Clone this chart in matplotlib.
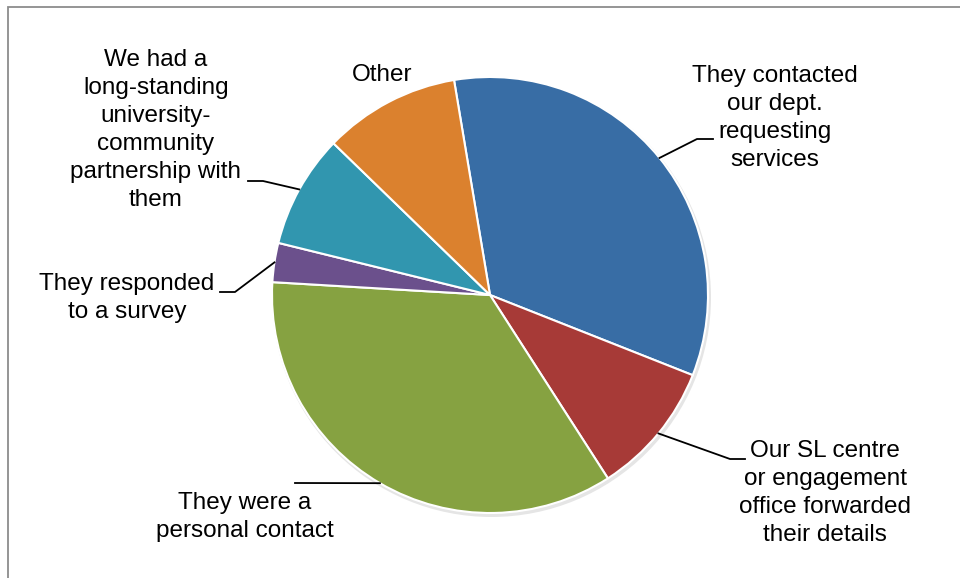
import numpy as np
import matplotlib.pyplot as plt
from matplotlib.patches import Rectangle, Circle

plt.rcParams['font.family'] = ['Liberation Sans', 'DejaVu Sans']

# slices, clockwise from just left of 12 o'clock
labels = ['They contacted\nour dept.\nrequesting\nservices',
          'Our SL centre\nor engagement\noffice forwarded\ntheir details',
          'They were a\npersonal contact',
          'They responded\nto a survey',
          'We had a\nlong-standing\nuniversity-\ncommunity\npartnership with\nthem',
          'Other']
shares = [33.6, 9.9, 35.0, 2.9, 8.4, 10.1]
colors = ['#386DA5', '#A73A37', '#86A241', '#6B508C', '#3196AF', '#DB812E']

W, H = 960, 578
def px(x, y):
    return x, H - y

# label layout in pixel coords: text centre, elbow, end of leader (None = no leader)
label_pos = [(775, 118), (825, 493), (245, 517), (127, 298), (156, 130), (382, 75)]
leader = [[(697, 139), (713, 139)],
          [(730, 459), (745, 459)],
          [(295, 483)],
          [(235, 292), (220, 292)],
          [(263, 181), (248, 181)],
          None]

fig = plt.figure(figsize=(9.6, 5.78), dpi=100)
ax = fig.add_axes([0, 0, 1, 1])

cx, cy = px(490, 295)
R = 218

# soft shadow behind the pie
ax.add_patch(Circle((cx + 1.5, cy - 2.5), R + 1.5, color='#d4d4d4', alpha=0.6, zorder=0, lw=0))

wedges, _ = ax.pie(shares, colors=colors, startangle=99.5, counterclock=False,
                   center=(cx, cy), radius=R,
                   wedgeprops=dict(edgecolor='white', linewidth=1.5))
ax.set_xlim(0, W)
ax.set_ylim(0, H)
ax.set_aspect('equal')
ax.axis('off')

for w, lab, (tx, ty), ld in zip(wedges, labels, label_pos, leader):
    ax.text(*px(tx, ty), lab, ha='center', va='center', fontsize=17.5,
            linespacing=1.36, color='black')
    if ld is None:
        continue
    mid = np.deg2rad((w.theta1 + w.theta2) / 2)
    xs = [cx + R * np.cos(mid)] + [p[0] for p in ld]
    ys = [cy + R * np.sin(mid)] + [H - p[1] for p in ld]
    ax.plot(xs, ys, color='black', lw=1.3, zorder=5)

# chart frame
fig.patches.append(Rectangle((8 / W, -0.1), 1.0, 1.1 - 7 / H, transform=fig.transFigure,
                             fill=False, edgecolor='#8c8c8c', lw=1.3))

fig.savefig('out.png', dpi=100)
